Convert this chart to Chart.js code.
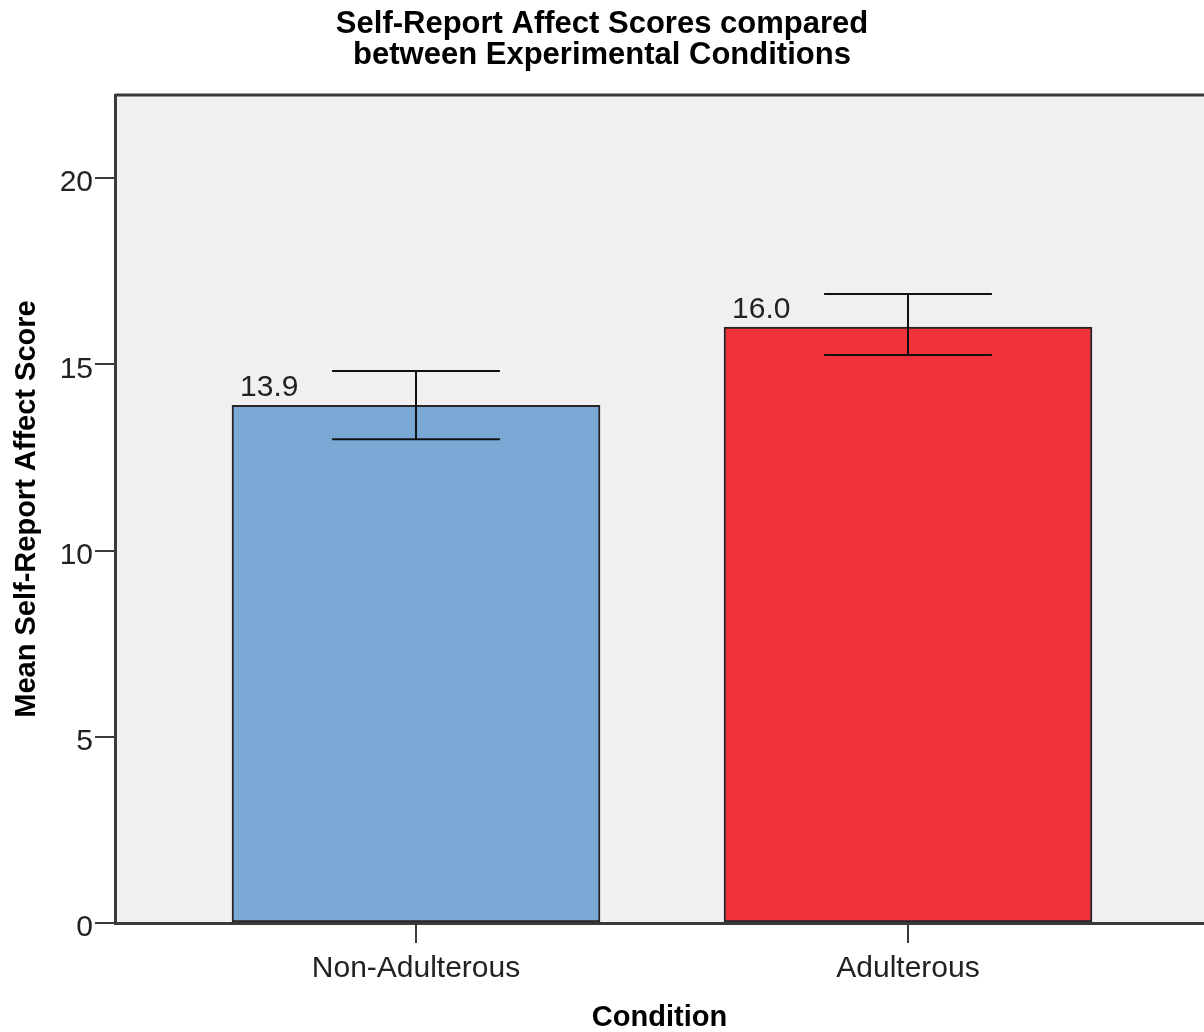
<!DOCTYPE html>
<html>
<head>
<meta charset="utf-8">
<script src="https://cdn.jsdelivr.net/npm/chart.js@4/dist/chart.umd.min.js"></script>
<style>
  html, body { margin: 0; padding: 0; background: #ffffff; }
  #wrap { width: 1204px; height: 1032px; }
</style>
</head>
<body>
<div id="wrap"><canvas id="c" width="1204" height="1032"></canvas></div>
<script>
// Group means with error bar limits
const categories = ['Non-Adulterous', 'Adulterous'];
const means = [13.9, 16.0];
const errLow = [12.99, 15.25];
const errHigh = [14.82, 16.89];
const valueLabels = ['13.9', '16.0'];
const barColors = ['#7BA9D6', '#F1323A'];
const yTicks = [0, 5, 10, 15, 20];

const FONT = "'Liberation Sans', Arial, sans-serif";
const TEXT = '#222222';

// Grey plot panel with a top frame line
const panelPlugin = {
  id: 'panel',
  beforeDraw(chart) {
    const { ctx, chartArea: a } = chart;
    ctx.save();
    ctx.fillStyle = '#F0F0F0';
    ctx.fillRect(a.left, a.top, a.right - a.left, a.bottom - a.top);
    ctx.strokeStyle = '#3a3a3a';
    ctx.lineWidth = 3;
    ctx.beginPath();
    ctx.moveTo(a.left, a.top);
    ctx.lineTo(a.right, a.top);
    ctx.stroke();
    ctx.restore();
  }
};

// Error bars and value labels drawn from the scales
const errorPlugin = {
  id: 'errorBars',
  afterDatasetsDraw(chart) {
    const { ctx, scales: { x, y } } = chart;
    const meta = chart.getDatasetMeta(0);
    ctx.save();
    meta.data.forEach((bar, i) => {
      const cx = x.getPixelForValue(i);
      const w = bar.width;
      const half = w * 0.228;
      const yHi = y.getPixelForValue(errHigh[i]);
      const yLo = y.getPixelForValue(errLow[i]);
      ctx.strokeStyle = '#111111';
      ctx.lineWidth = 2;
      ctx.beginPath();
      ctx.moveTo(cx - half, yHi); ctx.lineTo(cx + half, yHi);
      ctx.moveTo(cx - half, yLo); ctx.lineTo(cx + half, yLo);
      ctx.moveTo(cx, yHi); ctx.lineTo(cx, yLo);
      ctx.stroke();

      const top = y.getPixelForValue(means[i]);
      ctx.fillStyle = TEXT;
      ctx.font = '30px ' + FONT;
      ctx.textAlign = 'left';
      ctx.textBaseline = 'alphabetic';
      ctx.fillText(valueLabels[i], cx - w / 2 + 8, top - 9);
    });
    ctx.restore();
  }
};

new Chart(document.getElementById('c'), {
  type: 'bar',
  data: {
    datasets: [{
      data: means.map((v, i) => ({ x: i, y: v })),
      backgroundColor: barColors,
      borderColor: '#262626',
      borderWidth: 2,
      borderSkipped: false,
      barThickness: 368
    }]
  },
  options: {
    responsive: false,
    animation: false,
    layout: { padding: 0 },
    plugins: {
      legend: { display: false },
      tooltip: { enabled: false },
      title: {
        display: true,
        text: ['Self-Report Affect Scores compared', 'between Experimental Conditions'],
        color: '#000000',
        font: { family: FONT, size: 31, weight: 'bold', lineHeight: 1.0 },
        padding: { top: 9, bottom: 24 }
      }
    },
    scales: {
      x: {
        type: 'linear',
        offset: false,
        min: -0.6118,
        max: 1.6016,
        afterBuildTicks(scale) { scale.ticks = categories.map((_, i) => ({ value: i })); },
        afterFit(scale) { scale.height = 109; },
        ticks: {
          callback: (v) => categories[v],
          color: TEXT,
          font: { family: FONT, size: 30 },
          padding: 8,
          maxRotation: 0
        },
        grid: { offset: false, drawOnChartArea: false, drawTicks: true, tickLength: 20, color: '#3a3a3a', lineWidth: 2 },
        border: { display: true, color: '#3a3a3a', width: 3 },
        title: {
          display: true,
          text: 'Condition',
          color: '#000000',
          font: { family: FONT, size: 29, weight: 'bold', lineHeight: 1.0 },
          padding: { top: 0, bottom: 0 }
        }
      },
      y: {
        min: 0,
        max: 22.23,
        afterBuildTicks(scale) { scale.ticks = yTicks.map(v => ({ value: v })); },
        afterFit(scale) { scale.width = 115; },
        ticks: {
          color: TEXT,
          font: { family: FONT, size: 30 },
          padding: 2,
          labelOffset: 5
        },
        grid: { drawOnChartArea: false, drawTicks: true, tickLength: 20, color: '#3a3a3a', lineWidth: 2 },
        border: { display: true, color: '#3a3a3a', width: 3 },
        title: {
          display: true,
          text: 'Mean Self-Report Affect Score',
          color: '#000000',
          font: { family: FONT, size: 29, weight: 'bold', lineHeight: 1.2 },
          padding: { top: 10, bottom: 0 }
        }
      }
    }
  },
  plugins: [panelPlugin, errorPlugin]
});
</script>
</body>
</html>
